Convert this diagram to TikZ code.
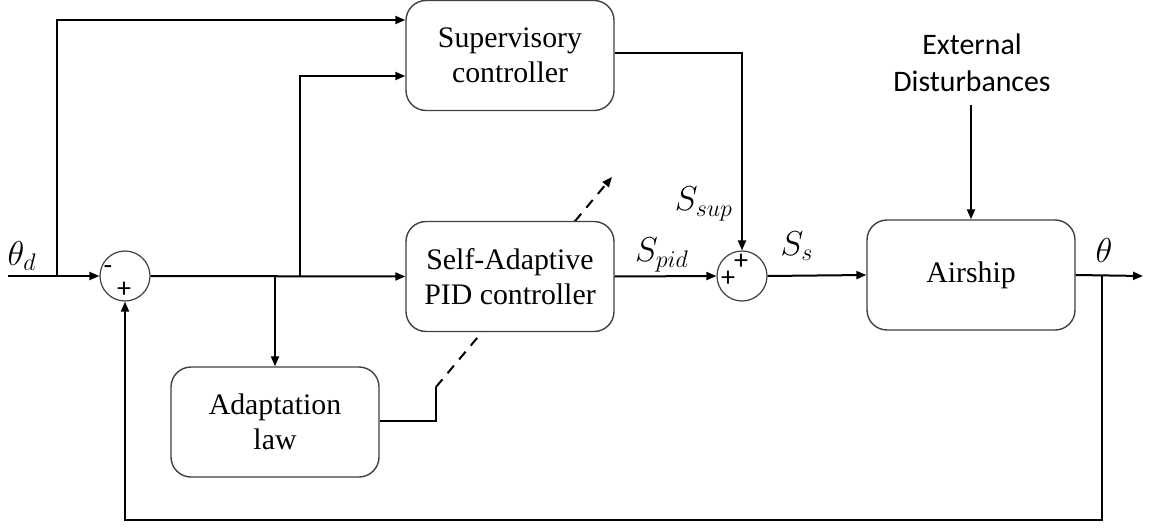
\documentclass[tikz,border=0pt]{standalone}
\usepackage{fontspec}
\setmainfont{Liberation Serif}
\newfontfamily\calib{Carlito}
\usetikzlibrary{arrows.meta}
\begin{document}
\begin{tikzpicture}[x=0.5pt,y=-0.5pt,
  blk/.style={draw=black!75, line width=0.7pt, rounded corners=10pt, fill=white,
    minimum width=104pt, minimum height=55pt, align=center, inner sep=0pt,
    font=\fontsize{14.9}{17.5}\selectfont},
  sumc/.style={circle, draw=black!75, line width=0.6pt, minimum size=25pt, inner sep=0pt},
  sig/.style={line width=1pt, -{Triangle[length=5pt,width=4pt]}},
  ln/.style={line width=1pt},
  lbl/.style={inner sep=0pt, font=\fontsize{17}{20}\selectfont},
  sgn/.style={inner sep=0pt, font=\calib\fontsize{14}{14}\selectfont}]
\useasboundingbox (0,0) rectangle (1149,529);
% helper coordinates
\coordinate (y20) at (0,20);
\coordinate (y53) at (0,53);
\coordinate (y76) at (0,76);
\coordinate (k1) at (436,421);
\coordinate (k2) at (436,387);
\coordinate (tip) at (612,177);
% dashed adaptation arrow (behind PID box)
\draw[line width=1pt, dash pattern=on 5pt off 4pt, -{Triangle[length=5pt,width=4pt]}] (k2) -- (tip);
% blocks
\node[blk] (sup) at (510,55.5) {Supervisory\\controller};
\node[blk] (pid) at (510,276.5) {Self-Adaptive\\PID controller};
\node[blk] (ada) at (275,422) {Adaptation\\law};
\node[blk] (air) at (971,275) {Airship};
\node[sumc] (s1) at (125,276) {};
\node[sumc] (s2) at (742,276) {};
% signs
\node[sgn] at (108,270) {-};
\node[sgn] at (124,290) {+};
\node[sgn] at (741,262) {+};
\node[sgn] at (728,279) {+};
% coordinates
\coordinate (in) at (8,276);
\coordinate (out) at (1143,276);
\coordinate (j0) at (57,276);
\coordinate (j1) at (275,276);
\coordinate (j2) at (300,276);
\coordinate (j3) at (1102,276);
\coordinate (fb) at (1102,520);
\coordinate (d0) at (971,105);
% connectors
\draw[sig] (in) -- (s1.west);
\draw[sig] (j0) |- (sup.west |- y20);
\draw[sig] (s1.east) -- (pid.west);
\draw[sig] (j1) -- (ada.north);
\draw[sig] (j2) |- (sup.west |- y76);
\draw[sig] (sup.east |- y53) -| (s2.north);
\draw[sig] (pid.east) -- (s2.west);
\draw[sig] (s2.east) -- (air.west);
\draw[sig] (d0) -- (air.north);
\draw[sig] (air.east) -- (out);
\draw[sig] (j3) -- (fb) -| (s1.south);
\draw[ln] (ada.east |- k1) -- (k1) -- (k2);
% labels
\node[lbl] (ltd) at (22,256) {$\theta_d$};
\node[lbl] (lt) at (1104,250) {$\theta$};
\node[lbl] (lpid) at (662,255) {$S_{pid}$};
\node[lbl] (lsup) at (704,204) {$S_{sup}$};
\node[lbl] (lss) at (797,246) {$S_s$};
\node[inner sep=0pt, align=center, font=\calib\fontsize{14.9}{18.5}\selectfont] (dist) at (972,63) {External\\Disturbances};
\end{tikzpicture}
\end{document}
